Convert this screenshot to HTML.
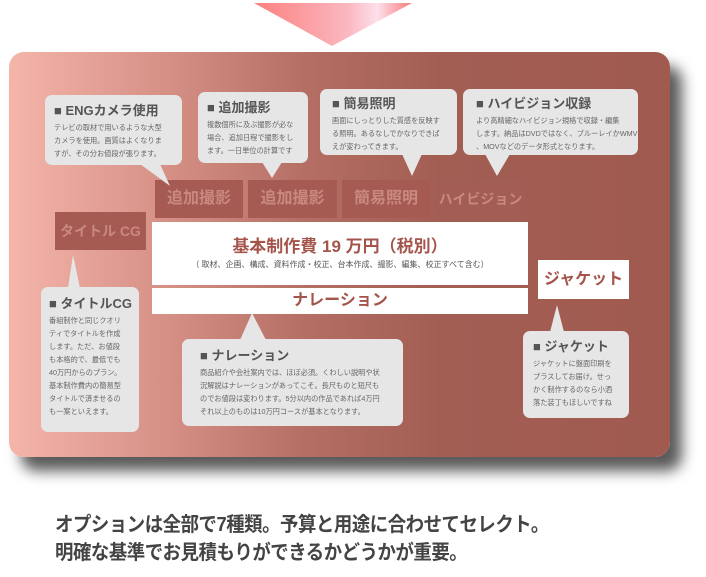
<!DOCTYPE html>
<html><head><meta charset="utf-8"><style>
*{margin:0;padding:0;box-sizing:border-box}
body{width:706px;height:577px;background:#fff;position:relative;overflow:hidden;font-family:"Liberation Sans","Noto Sans CJK JP",sans-serif}
.a{position:absolute}
.panel{left:9px;top:52px;width:661px;height:405px;border-radius:15px;background:linear-gradient(90deg,#f5b5aa 0%,#d48e84 25%,#b46e64 45%,#a35e54 65%,#a05a50 100%);box-shadow:12px 14px 14px rgba(0,0,0,.65)}
.bub{background:#e6e6e6;border-radius:7px;color:#555}
.bub h{display:block;font-weight:bold;color:#555;font-size:13px;line-height:14px;margin-bottom:3px}
.bub p{font-size:7.2px;line-height:13px;color:#666}
.tab{background:#a55b52;color:#c98880;font-weight:bold;font-size:16px;text-align:center;line-height:38px}
.wh{background:#fff;color:#a5544c;font-weight:bold;text-align:center}
</style></head><body>
<svg class="a" style="left:254px;top:3px" width="158" height="44"><defs><linearGradient id="g" x1="0" x2="1"><stop offset="0" stop-color="#fb7f7f"/><stop offset=".6" stop-color="#fbb8c0"/><stop offset=".78" stop-color="#fde0ea"/><stop offset="1" stop-color="#f77a7a"/></linearGradient></defs><polygon points="0,0 158,0 78,43" fill="url(#g)"/></svg>
<div class="a panel"></div>

<div class="a tab" style="left:155px;top:180px;width:88px">追加撮影</div>
<div class="a tab" style="left:248px;top:180px;width:89px">追加撮影</div>
<div class="a tab" style="left:342px;top:180px;width:88px">簡易照明</div>
<div class="a tab" style="left:435px;top:180px;width:91px;font-size:14px;background:#a35d54">ハイビジョン</div>
<div class="a tab" style="left:55px;top:212px;width:91px;font-size:14px">タイトル CG</div>

<div class="a wh" style="left:152px;top:222px;width:376px;height:63px"><div style="font-size:17px;margin-top:15px;line-height:19px">基本制作費 19 万円（税別）</div><div style="font-size:8px;color:#555;font-weight:normal;margin-top:3px">（ 取材、企画、構成、資料作成・校正、台本作成、撮影、編集、校正すべて含む）</div></div>
<div class="a wh" style="left:152px;top:288px;width:376px;height:26px;font-size:16px;line-height:26px">ナレーション</div>
<div class="a wh" style="left:538px;top:260px;width:91px;height:39px;font-size:16px;line-height:39px">ジャケット</div>

<svg class="a" style="left:0;top:0" width="706" height="577">
<g fill="#e6e6e6">
<polygon points="140,164 170,186 160,164"/>
<polygon points="262,162 272,178 282,162"/>
<polygon points="402,154 412,176 422,154"/>
<polygon points="485,154 497,176 510,154"/>
<polygon points="68,288 73,255 80,288"/>
<polygon points="240,340 252,313 266,340"/>
<polygon points="550,332 557,305 564,332"/>
</g></svg>

<div class="a bub" style="left:45px;top:95px;width:137px;height:70px;padding:9px 0 0 9px"><h>■ ENGカメラ使用</h><p>テレビの取材で用いるような大型<br>カメラを使用。画質はよくなりま<br>すが、その分お値段が張ります。</p></div>
<div class="a bub" style="left:198px;top:92px;width:110px;height:71px;padding:9px 0 0 9px"><h>■ 追加撮影</h><p>複数個所に及ぶ撮影が必な<br>場合、追加日程で撮影をし<br>ます。一日単位の計算です</p></div>
<div class="a bub" style="left:320px;top:89px;width:137px;height:66px;padding:8px 0 0 12px"><h>■ 簡易照明</h><p>画面にしっとりした質感を反映す<br>る照明。あるなしでかなりできば<br>えが変わってきます。</p></div>
<div class="a bub" style="left:463px;top:89px;width:175px;height:66px;padding:8px 0 0 13px"><h>■ ハイビジョン収録</h><p>より高精細なハイビジョン規格で収録・編集<br>します。納品はDVDではなく、ブルーレイかWMV<br>、MOVなどのデータ形式となります。</p></div>
<div class="a bub" style="left:41px;top:287px;width:98px;height:145px;padding:10px 0 0 8px"><h>■ タイトルCG</h><p>番組制作と同じクオリ<br>ティでタイトルを作成<br>します。ただ、お値段<br>も本格的で、最低でも<br>40万円からのプラン。<br>基本制作費内の簡易型<br>タイトルで済ませるの<br>も一案といえます。</p></div>
<div class="a bub" style="left:182px;top:339px;width:221px;height:87px;padding:10px 0 0 18px"><h>■ ナレーション</h><p>商品紹介や会社案内では、ほぼ必須。くわしい説明や状<br>況解説はナレーションがあってこそ。長尺ものと短尺も<br>のでお値段は変わります。5分以内の作品であれば4万円<br>それ以上のものは10万円コースが基本となります。</p></div>
<div class="a bub" style="left:523px;top:331px;width:106px;height:87px;padding:9px 0 0 10px"><h>■ ジャケット</h><p>ジャケットに盤面印刷を<br>プラスしてお届け。せっ<br>かく制作するのなら小洒<br>落た装丁もほしいですね</p></div>

<div class="a" style="left:55px;top:511px;font-size:20px;line-height:28px;font-weight:bold;color:#444;white-space:nowrap;transform:scaleX(.92);transform-origin:left;letter-spacing:-0.5px">オプションは全部で7種類。予算と用途に合わせてセレクト。<br>明確な基準でお見積もりができるかどうかが重要。</div>
</body></html>
